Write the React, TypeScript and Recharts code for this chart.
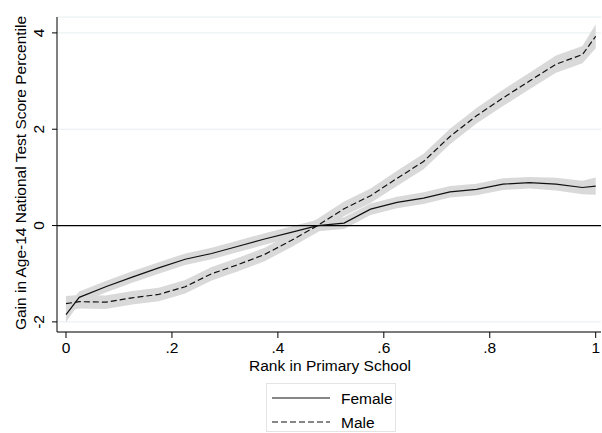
import React from "react";
import { ComposedChart, Area, Line, XAxis, YAxis, CartesianGrid, ReferenceLine, Customized } from "recharts";

// rank in primary school (bin midpoints plus the ends)
const ranks = [0, 0.025, 0.075, 0.125, 0.175, 0.225, 0.275, 0.325, 0.375, 0.425, 0.475, 0.525, 0.575, 0.625, 0.675, 0.725, 0.775, 0.825, 0.875, 0.925, 0.975, 1];

const female = [-1.85, -1.49, -1.27, -1.07, -0.88, -0.7, -0.58, -0.43, -0.28, -0.14, 0.0, 0.05, 0.34, 0.48, 0.57, 0.7, 0.75, 0.86, 0.89, 0.86, 0.79, 0.82];
const femaleCI = [0.16, 0.12, 0.12, 0.12, 0.12, 0.12, 0.12, 0.12, 0.12, 0.12, 0.12, 0.12, 0.12, 0.12, 0.12, 0.12, 0.12, 0.12, 0.12, 0.13, 0.14, 0.18];

const male = [-1.62, -1.58, -1.59, -1.5, -1.43, -1.27, -1.0, -0.81, -0.6, -0.31, 0.0, 0.35, 0.62, 0.98, 1.33, 1.85, 2.28, 2.65, 3.0, 3.35, 3.55, 3.93];
const maleCI = [0.16, 0.14, 0.14, 0.14, 0.14, 0.14, 0.14, 0.14, 0.14, 0.14, 0.14, 0.15, 0.15, 0.16, 0.16, 0.16, 0.16, 0.17, 0.17, 0.18, 0.18, 0.25];

const xTicks = [0, 0.2, 0.4, 0.6, 0.8, 1];
const yTicks = [-2, 0, 2, 4];

const data = ranks.map((r, i) => ({
  rank: r,
  female: female[i],
  male: male[i],
  fBand: [female[i] - femaleCI[i], female[i] + femaleCI[i]],
  mBand: [male[i] - maleCI[i], male[i] + maleCI[i]],
}));

const FONT = '"Liberation Sans", Arial, sans-serif';
const FS = 15.5;

const fmtX = (v: number) => (v === 0 || v === 1 ? String(v) : String(Math.round(v * 10) / 10).replace(/^0/, ""));

const YTick = (props: any) => {
  const { y, payload } = props;
  return (
    <text x={44} y={y} transform={`rotate(-90, 44, ${y})`} textAnchor="middle" fontSize={FS} fill="#000" fontFamily={FONT}>
      {payload.value}
    </text>
  );
};

const Titles = () => (
  <g fontFamily={FONT} fontSize={FS} fill="#000">
    <text x={25.5} y={173} transform="rotate(-90, 25.5, 173)" textAnchor="middle">
      Gain in Age-14 National Test Score Percentile
    </text>
    <text x={330} y={371} textAnchor="middle">
      Rank in Primary School
    </text>
  </g>
);

export default function App() {
  return (
    <div style={{ position: "absolute", left: 0, top: 0, width: 602, height: 433, background: "#fff", fontFamily: FONT }}>
      <ComposedChart width={602} height={433} data={data} margin={{ top: 17, right: 1, left: 0, bottom: 71 }}>
        <CartesianGrid vertical={false} stroke="#e6eef0" strokeWidth={1} />
        <XAxis
          dataKey="rank"
          type="number"
          domain={[-0.017, 1.01]}
          allowDataOverflow
          ticks={xTicks}
          tickFormatter={fmtX}
          height={30}
          tickSize={6}
          tickMargin={4}
          stroke="#000"
          tick={{ fill: "#000", fontSize: FS, fontFamily: FONT }}
        />
        <YAxis
          type="number"
          domain={[-2.21, 4.33]}
          allowDataOverflow
          ticks={yTicks}
          width={57}
          tickSize={5}
          stroke="#000"
          tick={<YTick />}
        />
        <Area dataKey="fBand" type="linear" stroke="none" fill="#d9d9d9" fillOpacity={1} isAnimationActive={false} />
        <Area dataKey="mBand" type="linear" stroke="none" fill="#d9d9d9" fillOpacity={1} isAnimationActive={false} />
        <ReferenceLine y={0} stroke="#000" strokeWidth={1.3} />
        <Line dataKey="female" name="Female" type="linear" stroke="#111" strokeWidth={1.2} dot={false} isAnimationActive={false} />
        <Line dataKey="male" name="Male" type="linear" stroke="#111" strokeWidth={1.2} strokeDasharray="6 3" dot={false} isAnimationActive={false} />
        <Customized component={Titles} />
      </ComposedChart>
      <div
        style={{
          position: "absolute",
          left: 266,
          top: 383,
          width: 130,
          height: 49,
          border: "1px solid #e4e4e4",
          boxSizing: "border-box",
        }}
      >
        <svg width={130} height={49} style={{ position: "absolute", left: -1, top: -1 }}>
          <line x1={6} x2={64} y1={15} y2={15} stroke="#111" strokeWidth={1.2} />
          <line x1={6} x2={64} y1={39} y2={39} stroke="#111" strokeWidth={1.2} strokeDasharray="6 3" />
          <text x={75} y={20.5} fontSize={FS} fontFamily={FONT} fill="#000">Female</text>
          <text x={75} y={44.5} fontSize={FS} fontFamily={FONT} fill="#000">Male</text>
        </svg>
      </div>
    </div>
  );
}
